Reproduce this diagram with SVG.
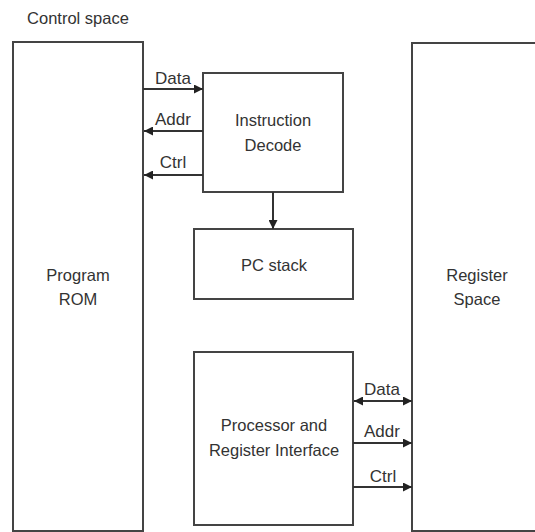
<svg xmlns="http://www.w3.org/2000/svg" width="535" height="532" viewBox="0 0 535 532">
<style>
.box{fill:#fff;stroke:#444;stroke-width:2}
.ln{fill:none;stroke:#333;stroke-width:2}
text{font-family:"Liberation Sans",Arial,sans-serif;font-size:16.5px;fill:#333;text-anchor:middle}
.lbl{font-size:17px}
</style>
<defs>
<marker id="ah" viewBox="0 0 10 10" refX="10" refY="5" markerWidth="9" markerHeight="9" markerUnits="userSpaceOnUse" orient="auto-start-reverse">
<path d="M0,0 L10,5 L0,10 z" fill="#222"/>
</marker>
</defs>
<rect width="535" height="532" fill="#fff"/>
<text x="78" y="24">Control space</text>
<g id="program-rom">
<rect class="box" x="13" y="42" width="130" height="489"/>
<text x="78" y="281">Program</text>
<text x="78" y="305">ROM</text>
</g>
<g id="register-space">
<rect class="box" x="412" y="43" width="140" height="488"/>
<text x="477" y="281">Register</text>
<text x="477" y="305">Space</text>
</g>
<g id="instruction-decode">
<rect class="box" x="203" y="73" width="140" height="119"/>
<text x="273" y="126">Instruction</text>
<text x="273" y="151">Decode</text>
</g>
<g id="pc-stack">
<rect class="box" x="194" y="229" width="159" height="70"/>
<text x="274" y="271">PC stack</text>
</g>
<g id="processor-interface">
<rect class="box" x="194" y="352" width="159" height="173"/>
<text x="274" y="431">Processor and</text>
<text x="274" y="456">Register Interface</text>
</g>
<g id="connectors">
<line class="ln" x1="143" y1="89" x2="203" y2="89" marker-end="url(#ah)"/>
<line class="ln" x1="203" y1="131" x2="144" y2="131" marker-end="url(#ah)"/>
<line class="ln" x1="203" y1="175" x2="144" y2="175" marker-end="url(#ah)"/>
<line class="ln" x1="273" y1="192" x2="273" y2="229" marker-end="url(#ah)"/>
<line class="ln" x1="354" y1="401" x2="412" y2="401" marker-start="url(#ah)" marker-end="url(#ah)"/>
<line class="ln" x1="353" y1="443" x2="412" y2="443" marker-end="url(#ah)"/>
<line class="ln" x1="353" y1="487" x2="412" y2="487" marker-end="url(#ah)"/>
<text class="lbl" x="173" y="84">Data</text>
<text class="lbl" x="173" y="125">Addr</text>
<text class="lbl" x="173" y="168">Ctrl</text>
<text class="lbl" x="382" y="395">Data</text>
<text class="lbl" x="382" y="437">Addr</text>
<text class="lbl" x="383" y="482">Ctrl</text>
</g>
</svg>
